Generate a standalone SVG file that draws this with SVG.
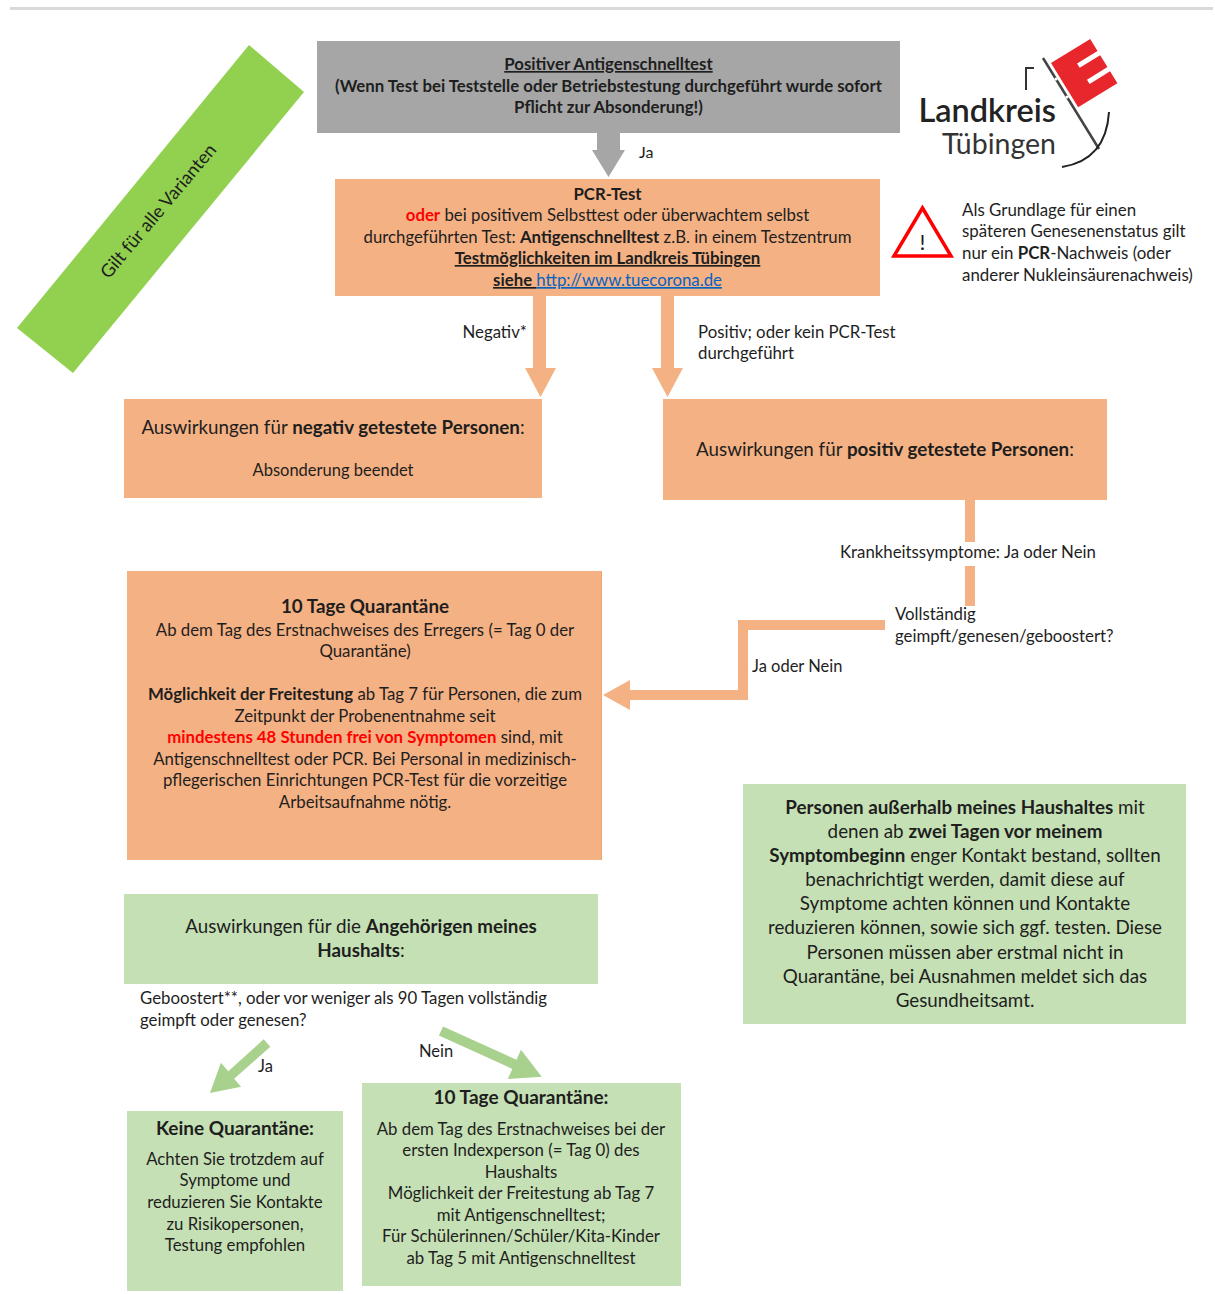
<svg xmlns="http://www.w3.org/2000/svg" width="1215" height="1294" viewBox="0 0 1215 1294">
<style>
text{font-family:Lato,"Open Sans","Liberation Sans",sans-serif;fill:#1e1e1e}
.c{text-anchor:middle}
.b{font-weight:bold}
.u{text-decoration:underline}
.red{fill:#ff0000}
.s16{font-size:16.5px}
.s17{font-size:16.8px}
.s19{font-size:18.8px}
.orange{fill:#f4b183}
.green{fill:#c5e0b4}
.garrow{fill:#a9d18e}
</style>
<rect width="1215" height="1294" fill="#ffffff"/>
<line x1="10" y1="8.5" x2="1213" y2="8.5" stroke="#d9d9d9" stroke-width="3"/>

<g id="band">
<polygon points="249,45 304,92 73,373 17,328" fill="#92d050"/>
<text class="c" font-size="18.3" transform="translate(163,215) rotate(-50)">Gilt für alle Varianten</text>
</g>

<g id="antigen">
<rect x="317" y="41" width="583" height="92" fill="#a6a6a6"/>
<text class="c b s17" x="608.5" y="70"><tspan class="u">Positiver Antigenschnelltest</tspan></text>
<text class="c b s17" x="608.5" y="92">(Wenn Test bei Teststelle oder Betriebstestung durchgeführt wurde sofort</text>
<text class="c b s17" x="608.5" y="113">Pflicht zur Absonderung!)</text>
</g>

<g id="pcr">
<rect x="335" y="179" width="545" height="117" class="orange"/>
<text class="c b s17" x="607.5" y="200">PCR-Test</text>
<text class="c s17" x="607.5" y="221"><tspan class="red b">oder</tspan> bei positivem Selbsttest oder überwachtem selbst</text>
<text class="c s17" x="607.5" y="243">durchgeführten Test: <tspan class="b">Antigenschnelltest</tspan> z.B. in einem Testzentrum</text>
<text class="c b u s17" x="607.5" y="264">Testmöglichkeiten im Landkreis Tübingen</text>
<text class="c s17" x="607.5" y="286"><tspan class="b u">siehe </tspan><tspan class="u" fill="#0563c1">http://www.tuecorona.de</tspan></text>
</g>

<g id="logo">
<text x="1056" y="122" text-anchor="end" font-size="32.5" font-weight="600" style="fill:#222">Landkreis</text>
<text x="1056" y="154" text-anchor="end" font-size="28.5" style="fill:#333">Tübingen</text>
<path d="M1026,90 V68 H1034" fill="none" stroke="#333" stroke-width="2"/>
<line x1="1043" y1="58" x2="1099" y2="149" stroke="#444" stroke-width="2.5"/>
<path transform="translate(1051,63) rotate(-31.5)" d="M0,0 H46 V14 H22 V19 H46 V33 H22 V38 H46 V52 H0 Z" fill="#e8272d"/>
<circle cx="1056" cy="79" r="1.6" fill="#fff"/>
<circle cx="1067" cy="97" r="1.6" fill="#fff"/>
<path d="M1062,167 Q1106,160 1109,112" fill="none" stroke="#222" stroke-width="2"/>
</g>

<g id="warning">
<polygon points="922.5,208 894,256 951,256" fill="#fff" stroke="#ff0000" stroke-width="3.5" stroke-linejoin="miter"/>
<text class="c" x="922.5" y="250" font-size="22" style="fill:#1e1e1e">!</text>
<text x="962" y="216" font-size="16.9">Als Grundlage für einen</text>
<text x="962" y="237" font-size="16.9">späteren Genesenenstatus gilt</text>
<text x="962" y="259" font-size="16.9">nur ein <tspan class="b">PCR</tspan>-Nachweis (oder</text>
<text x="962" y="281" font-size="16.9">anderer Nukleinsäurenachweis)</text>
</g>

<g id="negative">
<rect x="124" y="399" width="418" height="99" class="orange"/>
<text class="c s19" x="333" y="434">Auswirkungen für <tspan class="b">negativ getestete Personen</tspan>:</text>
<text class="c s16" x="333" y="476">Absonderung beendet</text>
</g>

<g id="positive">
<rect x="663" y="399" width="444" height="101" class="orange"/>
<text class="c s19" x="885" y="456">Auswirkungen für <tspan class="b">positiv getestete Personen</tspan>:</text>
</g>

<g id="quarantine">
<rect x="127" y="571" width="475" height="289" class="orange"/>
<line x1="601.5" y1="571" x2="601.5" y2="860" stroke="#f0a36e" stroke-width="1"/>
<text class="c b s19" x="365" y="613">10 Tage Quarantäne</text>
<text class="c s17" x="365" y="636">Ab dem Tag des Erstnachweises des Erregers (= Tag 0 der</text>
<text class="c s17" x="365" y="657">Quarantäne)</text>
<text class="c s17" x="365" y="700"><tspan class="b">Möglichkeit der Freitestung</tspan> ab Tag 7 für Personen, die zum</text>
<text class="c s17" x="365" y="722">Zeitpunkt der Probenentnahme seit</text>
<text class="c s17" x="365" y="743"><tspan class="red b">mindestens 48 Stunden frei von Symptomen</tspan> sind, mit</text>
<text class="c s17" x="365" y="765">Antigenschnelltest oder PCR. Bei Personal in medizinisch-</text>
<text class="c s17" x="365" y="786">pflegerischen Einrichtungen PCR-Test für die vorzeitige</text>
<text class="c s17" x="365" y="808">Arbeitsaufnahme nötig.</text>
</g>

<g id="contacts">
<rect x="743" y="784" width="443" height="240" class="green"/>
<text class="c s19" x="965" y="814"><tspan class="b">Personen außerhalb meines Haushaltes</tspan> mit</text>
<text class="c s19" x="965" y="838">denen ab <tspan class="b">zwei Tagen vor meinem</tspan></text>
<text class="c s19" x="965" y="862"><tspan class="b">Symptombeginn</tspan> enger Kontakt bestand, sollten</text>
<text class="c s19" x="965" y="886">benachrichtigt werden, damit diese auf</text>
<text class="c s19" x="965" y="910">Symptome achten können und Kontakte</text>
<text class="c s19" x="965" y="934">reduzieren können, sowie sich ggf. testen. Diese</text>
<text class="c s19" x="965" y="959">Personen müssen aber erstmal nicht in</text>
<text class="c s19" x="965" y="983">Quarantäne, bei Ausnahmen meldet sich das</text>
<text class="c s19" x="965" y="1007">Gesundheitsamt.</text>
</g>

<g id="household">
<rect x="124" y="894" width="474" height="90" class="green"/>
<text class="c s19" x="361" y="933">Auswirkungen für die <tspan class="b">Angehörigen meines</tspan></text>
<text class="c s19" x="361" y="957"><tspan class="b">Haushalts</tspan>:</text>
</g>

<g id="no-quarantine">
<rect x="127" y="1111" width="216" height="180" class="green"/>
<text class="c b" font-size="19" x="235" y="1135">Keine Quarantäne:</text>
<text class="c s17" x="235" y="1165">Achten Sie trotzdem auf</text>
<text class="c s17" x="235" y="1186">Symptome und</text>
<text class="c s17" x="235" y="1208">reduzieren Sie Kontakte</text>
<text class="c s17" x="235" y="1230">zu Risikopersonen,</text>
<text class="c s17" x="235" y="1251">Testung empfohlen</text>
</g>

<g id="household-quarantine">
<rect x="362" y="1083" width="319" height="203" class="green"/>
<text class="c b" font-size="19" x="521" y="1104">10 Tage Quarantäne:</text>
<text class="c s17" x="521" y="1135">Ab dem Tag des Erstnachweises bei der</text>
<text class="c s17" x="521" y="1156">ersten Indexperson (= Tag 0) des</text>
<text class="c s17" x="521" y="1178">Haushalts</text>
<text class="c s17" x="521" y="1199">Möglichkeit der Freitestung ab Tag 7</text>
<text class="c s17" x="521" y="1221">mit Antigenschnelltest;</text>
<text class="c s17" x="521" y="1242">Für Schülerinnen/Schüler/Kita-Kinder</text>
<text class="c s17" x="521" y="1264">ab Tag 5 mit Antigenschnelltest</text>
</g>

<g id="connectors">
<polygon points="597,133 620,133 620,150 625,150 608.5,177 592,150 597,150" fill="#a6a6a6"/>
<text x="639" y="158" font-size="16">Ja</text>

<polygon points="533,296 546,296 546,368 556,368 540.5,397 525,368 533,368" class="orange"/>
<text class="s17" x="527" y="338" text-anchor="end">Negativ*</text>
<polygon points="661,296 674,296 674,368 683,368 667.5,397 652,368 661,368" class="orange"/>
<text class="s17" x="698" y="338">Positiv; oder kein PCR-Test</text>
<text class="s17" x="698" y="359">durchgeführt</text>

<line x1="970" y1="500" x2="970" y2="542" stroke="#f4b183" stroke-width="10"/>
<text class="s17" x="840" y="558">Krankheitssymptome: Ja oder Nein</text>
<line x1="970" y1="566" x2="970" y2="606" stroke="#f4b183" stroke-width="10"/>
<text class="s17" x="895" y="620">Vollständig</text>
<text class="s17" x="895" y="642">geimpft/genesen/geboostert?</text>
<path d="M885,625 H743 V695 H629" fill="none" stroke="#f4b183" stroke-width="10" stroke-linejoin="miter"/>
<polygon points="630,680 630,710 603,695" class="orange"/>
<text class="s16" x="752" y="672">Ja oder Nein</text>

<text class="s17" x="140" y="1004">Geboostert**, oder vor weniger als 90 Tagen vollständig</text>
<text class="s17" x="140" y="1026">geimpft oder genesen?</text>
<polygon points="263.7,1039.3 228.3,1071.2 220.9,1062.8 210,1093 241.1,1086.8 234.1,1078.8 270.3,1046.8" class="garrow"/>
<text class="s16" x="258" y="1072">Ja</text>
<polygon points="443.1,1026.5 516.5,1059.8 521,1049.7 541.7,1076.7 507.8,1078.9 512.3,1068.9 438.9,1035.6" class="garrow"/>
<text class="s16" x="419" y="1057">Nein</text>
</g>
</svg>
